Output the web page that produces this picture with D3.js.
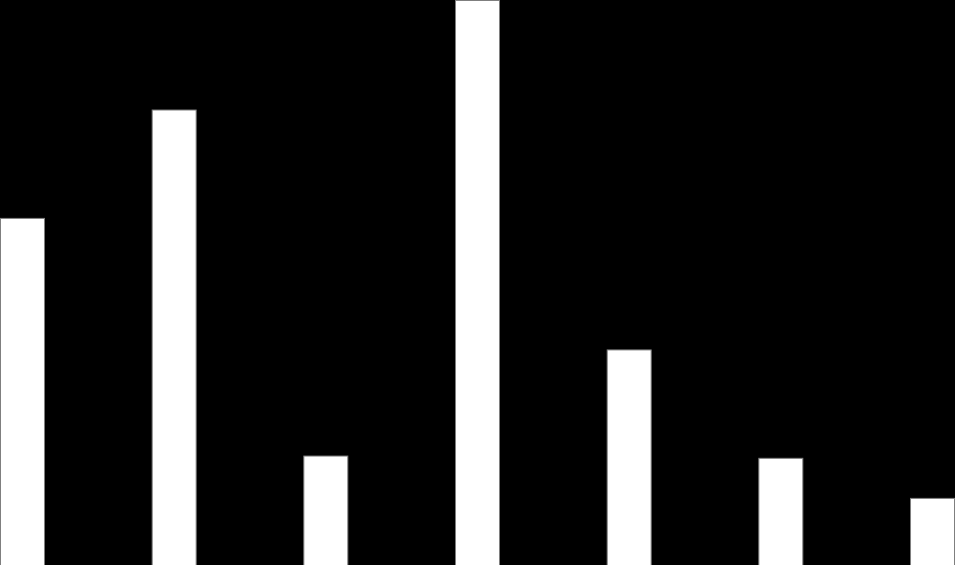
<!DOCTYPE html>
<meta charset="utf-8">
<script src="https://d3js.org/d3.v7.min.js"></script>
<style>
  html, body { margin: 0; padding: 0; background: #000; overflow: hidden; }
</style>
<div id="my_dataviz"></div>
<script>
// categories and values (no labels in the picture, values read as share of the tallest bar)
var categories = ["A", "B", "C", "D", "E", "F", "G"];
var values = [61.4, 80.6, 19.3, 100, 38.1, 18.9, 11.8];

var width = 955, height = 565;

var svg = d3.select("#my_dataviz")
  .append("svg")
    .attr("width", width)
    .attr("height", height)
    .style("display", "block")
    .style("background", "#000");

// X scale
var x = d3.scaleBand()
  .range([0.5, 954.5])
  .domain(categories)
  .paddingInner(0.71)
  .paddingOuter(0);

// Y scale
var y = d3.scaleLinear()
  .domain([0, 100])
  .range([height, 0.5]);

var data = categories.map(function(c, i) { return {group: c, value: values[i]}; });

svg.selectAll("rect")
  .data(data)
  .enter()
  .append("rect")
    .attr("x", function(d) { return x(d.group); })
    .attr("y", function(d) { return y(d.value); })
    .attr("width", x.bandwidth())
    .attr("height", function(d) { return height - y(d.value) + 2; })
    .attr("fill", "#ffffff")
    .attr("stroke", "#7f7f7f")
    .attr("stroke-width", 1);
</script>
